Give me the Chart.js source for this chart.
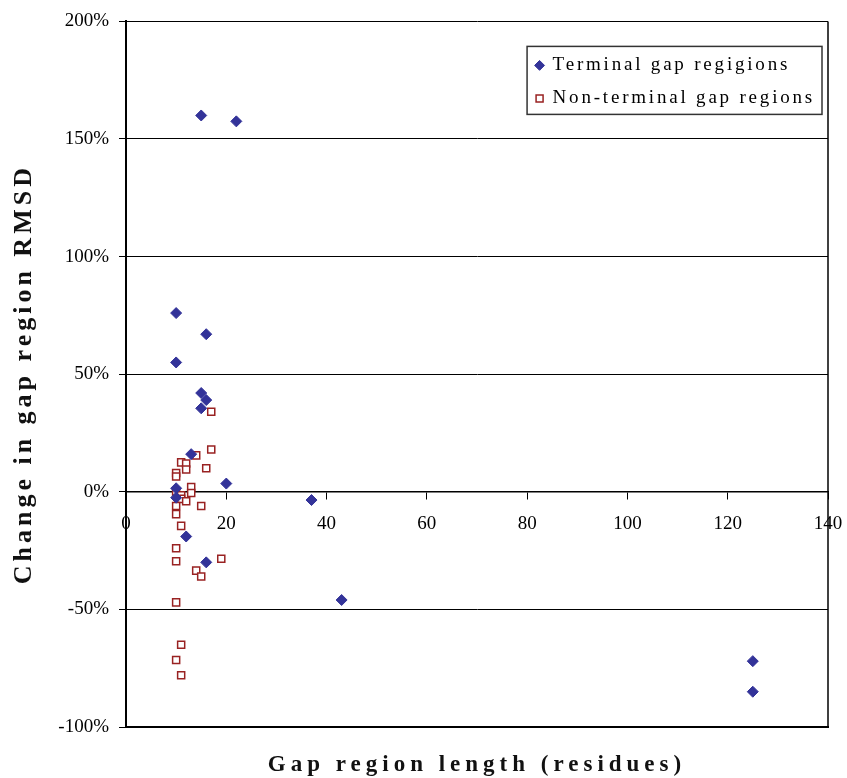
<!DOCTYPE html>
<html>
<head>
<meta charset="utf-8">
<title>Change in gap region RMSD</title>
<script src="https://cdn.jsdelivr.net/npm/chart.js@4/dist/chart.umd.min.js"></script>
<style>
  html, body { margin: 0; padding: 0; background: #fff; }
  canvas { display: block; }
</style>
</head>
<body>
<canvas id="gapChart" width="847" height="778"></canvas>
<script>
// Terminal gap regions (diamonds): length in residues, change in RMSD (%)
const terminalLength = [15, 22, 10, 16, 10, 15, 16, 15, 13, 20, 10, 10, 12, 16, 37, 43, 125, 125];
const terminalChange = [160, 157.5, 76, 67, 55, 42, 39, 35.5, 16, 3.5, 1.5, -2.5, -19, -30, -3.5, -46, -72, -85];

// Non-terminal gap regions (squares)
const nonTerminalLength = [17, 17, 14, 11, 12, 12, 16, 10, 10, 13, 10, 13, 11, 11, 12, 15, 10, 10, 11, 10, 10, 19, 14, 15, 10, 11, 10, 11];
const nonTerminalChange = [34, 18, 15.5, 12.5, 12, 9.5, 10, 8, 6.5, 2, 0, -0.5, -1.5, -3, -4, -6, -6, -9.5, -14.5, -24, -29.5, -28.5, -33.5, -36, -47, -65, -71.5, -78];

const seriesNames = ["Terminal gap regigions", "Non-terminal gap regions"];
const xAxisTicks = [0, 20, 40, 60, 80, 100, 120, 140];
const yAxisTicks = [-100, -50, 0, 50, 100, 150, 200];

const SERIF = '"Liberation Serif", "Times New Roman", serif';

// canvas text has no letter spacing option in Chart.js, so wrap the boxes that need it
function spaced(box, px) {
    const ctx = box.ctx;
    ["update", "draw"].forEach(name => {
        const orig = box[name];
        box[name] = function (...args) {
            const prev = ctx.letterSpacing;
            ctx.letterSpacing = px + "px";
            try { return orig.apply(this, args); } finally { ctx.letterSpacing = prev; }
        };
    });
    box._spaced = true;
}

const frameAndLegend = {
    id: "frameAndLegend",
    beforeLayout(chart) {
        chart.boxes.forEach(b => {
            if (b.axis || b._spaced) return;
            if (b === chart.legend) spaced(b, 2.8);
            else if (b === chart.titleBlock) spaced(b, 5);
            else spaced(b, 4);
        });
    },
    afterLayout(chart) {
        // legend sits inside the plot, top right
        const lg = chart.legend, a = chart.chartArea;
        const pad = lg.options.labels.padding;
        const itemW = Math.max(...lg.legendHitBoxes.map(h => h.width));
        lg._itemW = itemW;
        lg.left = a.right - 13 - itemW - pad;
        lg.top = a.top + 34.5 - pad;
        lg.right = lg.left + pad + itemW + 6;
        lg.bottom = lg.top + 100;
    },
    afterDraw(chart) {
        const {ctx, chartArea: a, legend: lg} = chart;
        ctx.save();
        ctx.strokeStyle = "#000";
        ctx.lineWidth = 1.5;
        ctx.beginPath();
        ctx.moveTo(a.right, a.top);
        ctx.lineTo(a.right, a.bottom);
        ctx.stroke();
        ctx.lineWidth = 2;
        ctx.beginPath();
        ctx.moveTo(a.left, a.bottom);
        ctx.lineTo(a.right + 1, a.bottom);
        ctx.stroke();

        const pad = lg.options.labels.padding;
        const itemH = lg.options.labels.font.size;
        const rows = lg.legendItems.length;
        const x0 = lg.left + pad - 9;
        const y0 = lg.top + pad - 9.5;
        const x1 = lg.left + pad + lg._itemW + 7;
        const y1 = lg.top + pad + rows * itemH + (rows - 1) * pad + 6.5;
        ctx.strokeStyle = "#333";
        ctx.lineWidth = 1.5;
        ctx.strokeRect(x0, y0, x1 - x0, y1 - y0);
        ctx.restore();
    }
};

new Chart(document.getElementById("gapChart"), {
    type: "scatter",
    data: {
        datasets: [
            {
                label: seriesNames[0],
                data: terminalLength.map((x, i) => ({x: x, y: terminalChange[i]})),
                pointStyle: "rectRot",
                pointRadius: 5.5,
                borderWidth: 1,
                backgroundColor: "#333399",
                borderColor: "#333399"
            },
            {
                label: seriesNames[1],
                data: nonTerminalLength.map((x, i) => ({x: x, y: nonTerminalChange[i]})),
                pointStyle: "rect",
                pointRadius: 5,
                borderWidth: 1.5,
                backgroundColor: "#ffffff",
                borderColor: "#992222"
            }
        ]
    },
    options: {
        responsive: false,
        animation: false,
        layout: { padding: { top: 21, right: 19, bottom: 1, left: 0 } },
        plugins: {
            tooltip: { enabled: false },
            legend: {
                position: "chartArea",
                align: "start",
                labels: {
                    usePointStyle: true,
                    boxWidth: 7,
                    boxHeight: 7,
                    padding: 14,
                    color: "#000",
                    font: { family: SERIF, size: 19 }
                }
            },
            title: {
                display: true,
                position: "bottom",
                fullSize: false,
                text: "Gap region length (residues)",
                color: "#111",
                padding: { top: 27, bottom: 0 },
                font: { family: SERIF, size: 23, weight: "bold", lineHeight: 1 }
            },
            subtitle: {
                display: true,
                position: "left",
                fullSize: false,
                text: "Change in gap region RMSD",
                color: "#111",
                padding: { top: 11, bottom: 0 },
                font: { family: SERIF, size: 26, weight: "bold", lineHeight: 1 }
            }
        },
        scales: {
            x: {
                type: "linear",
                position: { y: 0 },
                min: xAxisTicks[0],
                max: xAxisTicks[xAxisTicks.length - 1],
                afterBuildTicks: s => { s.ticks = xAxisTicks.map(v => ({value: v})); },
                // the end labels may overhang the plot, as in the original
                afterFit: s => { s.paddingLeft = 0; s.paddingRight = 0; },
                grid: { drawOnChartArea: false, drawTicks: true, tickLength: 7, color: "#000" },
                border: { display: true, color: "#000", width: 1.5 },
                ticks: { padding: 14, color: "#000", font: { family: SERIF, size: 19 } }
            },
            y: {
                type: "linear",
                position: "left",
                min: yAxisTicks[0],
                max: yAxisTicks[yAxisTicks.length - 1],
                afterBuildTicks: s => { s.ticks = yAxisTicks.map(v => ({value: v})); },
                afterFit: s => { s.width = 89; },
                grid: { color: "#000", lineWidth: 1, tickLength: 7 },
                border: { display: true, color: "#000", width: 2 },
                ticks: {
                    padding: 10,
                    color: "#000",
                    font: { family: SERIF, size: 19 },
                    callback: v => v + "%"
                }
            }
        }
    },
    plugins: [frameAndLegend]
});
</script>
</body>
</html>
